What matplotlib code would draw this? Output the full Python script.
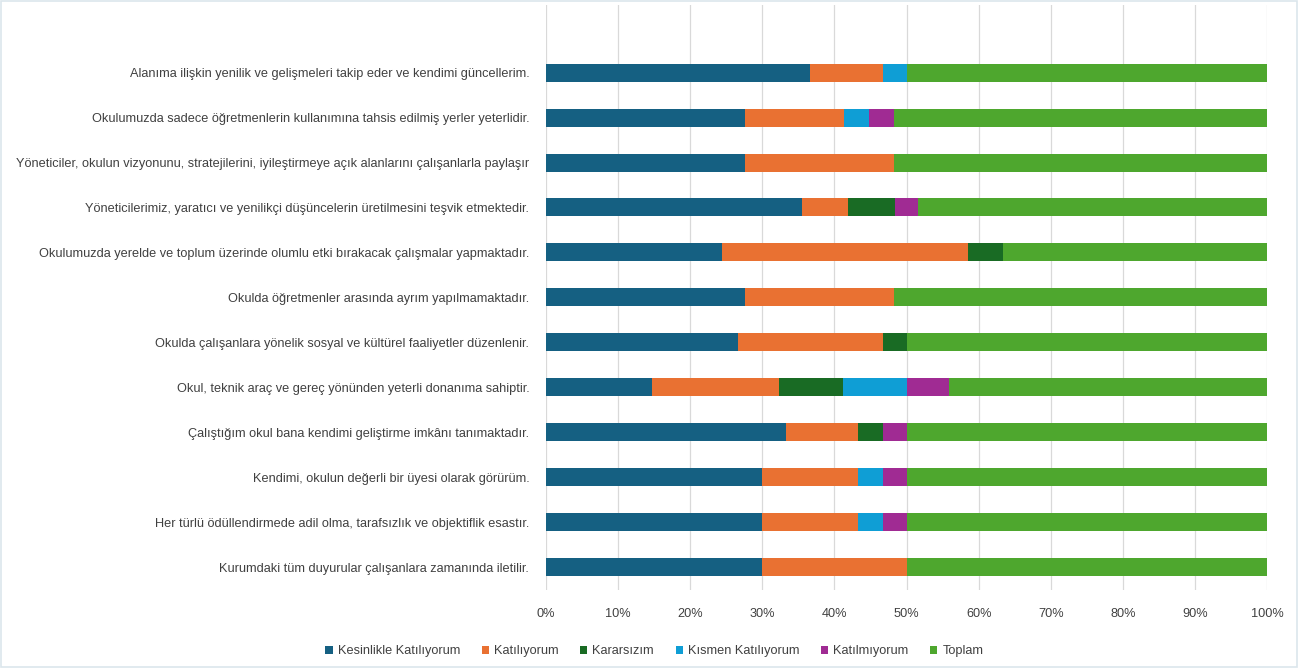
import numpy as np
import matplotlib
matplotlib.use('Agg')
import matplotlib.pyplot as plt
from matplotlib.patches import Patch

plt.rcParams['font.family'] = ['Liberation Sans', 'DejaVu Sans']

# top to bottom, as shown
categories = [
    'Alanıma ilişkin yenilik ve gelişmeleri takip eder ve kendimi güncellerim.',
    'Okulumuzda sadece öğretmenlerin kullanımına tahsis edilmiş yerler yeterlidir.',
    'Yöneticiler, okulun vizyonunu, stratejilerini, iyileştirmeye açık alanlarını çalışanlarla paylaşır',
    'Yöneticilerimiz, yaratıcı ve yenilikçi düşüncelerin üretilmesini teşvik etmektedir.',
    'Okulumuzda yerelde ve toplum üzerinde olumlu etki bırakacak çalışmalar yapmaktadır.',
    'Okulda öğretmenler arasında ayrım yapılmamaktadır.',
    'Okulda çalışanlara yönelik sosyal ve kültürel faaliyetler düzenlenir.',
    'Okul, teknik araç ve gereç yönünden yeterli donanıma sahiptir.',
    'Çalıştığım okul bana kendimi geliştirme imkânı tanımaktadır.',
    'Kendimi, okulun değerli bir üyesi olarak görürüm.',
    'Her türlü ödüllendirmede adil olma, tarafsızlık ve objektiflik esastır.',
    'Kurumdaki tüm duyurular çalışanlara zamanında iletilir.',
]
series_names = ['Kesinlikle Katılıyorum', 'Katılıyorum', 'Kararsızım',
                'Kısmen Katılıyorum', 'Katılmıyorum', 'Toplam']

# counts
kesinlikle = [22, 16, 16, 22, 20, 16, 16, 10, 20, 18, 18, 18]
katiliyorum = [6, 8, 12, 4, 28, 12, 12, 12, 6, 8, 8, 12]
kararsizim = [0, 0, 0, 4, 4, 0, 2, 6, 2, 0, 0, 0]
kismen = [2, 2, 0, 0, 0, 0, 0, 6, 0, 2, 2, 0]
katilmiyorum = [0, 2, 0, 2, 0, 0, 0, 4, 2, 2, 2, 0]
toplam = [30, 30, 30, 30, 30, 30, 30, 30, 30, 30, 30, 30]

colors = ['#156082', '#E97132', '#196B24', '#0F9ED5', '#A02B93', '#4EA72E']

data = np.array([kesinlikle, katiliyorum, kararsizim, kismen, katilmiyorum, toplam], dtype=float)
pct = data / data.sum(axis=0) * 100

fig = plt.figure(figsize=(13.01, 6.68), dpi=100)
ax = fig.add_axes([0.4197, 0.1168, 0.5542, 0.8757])

y = np.arange(1, len(categories) + 1)
left = np.zeros(len(categories))
for vals, c in zip(pct, colors):
    ax.barh(y, vals, left=left, height=0.4, color=c, edgecolor='none', zorder=3)
    left += vals

ax.set_ylim(12.5, -0.5)
ax.set_xlim(0, 100)
ax.set_yticks(y)
ax.set_yticklabels(categories, fontsize=9.2, color='#404040')
ax.set_xticks(np.arange(0, 101, 10))
ax.set_xticklabels([f'{v}%' for v in range(0, 101, 10)], fontsize=9.2, color='#404040')
ax.tick_params(length=0)
ax.tick_params(axis='y', pad=12)
ax.tick_params(axis='x', pad=13)
ax.grid(axis='x', color='#D9D9D9', linewidth=0.9, zorder=0)
for s in ax.spines.values():
    s.set_visible(False)

handles = [Patch(facecolor=c, edgecolor='none') for c in colors]
fig.legend(handles, series_names, loc='center', bbox_to_anchor=(0.503, 0.025),
           ncol=6, frameon=False, fontsize=9.2, handlelength=0.55, handleheight=0.55,
           handletextpad=0.4, columnspacing=1.7, labelcolor='#404040')

fig.patches.append(plt.Rectangle((0.001, 0.001), 0.996, 0.997, transform=fig.transFigure,
                                 fill=False, edgecolor='#DCE6EC', linewidth=1.2))

fig.savefig('out.png', dpi=100)
